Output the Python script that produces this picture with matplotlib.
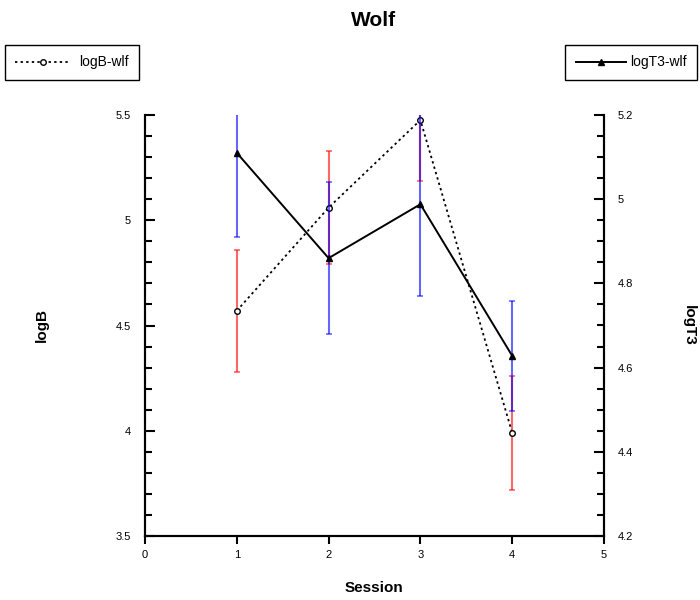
import matplotlib.pyplot as plt
from matplotlib.ticker import MultipleLocator

plt.rcParams['font.family'] = ['Liberation Sans', 'DejaVu Sans']

sessions = [1, 2, 3, 4]
logB = [4.57, 5.06, 5.476, 3.99]
logB_err = [0.29, 0.27, 0.288, 0.27]
logT3 = [5.11, 4.86, 4.988, 4.628]
logT3_err = [0.20, 0.18, 0.218, 0.13]

fig = plt.figure(figsize=(7, 6), dpi=100)
ax = fig.add_axes([145/700, 64/600, 459/700, 421/600])
ax2 = ax.twinx()

# error bars first, semi transparent so overlaps show purple
ax.errorbar(sessions, logB, yerr=logB_err, fmt='none', ecolor='red', alpha=0.6,
            elinewidth=1.5, capsize=2.5, capthick=1.2)
ax2.errorbar(sessions, logT3, yerr=logT3_err, fmt='none', ecolor='blue', alpha=0.6,
             elinewidth=1.5, capsize=2.5, capthick=1.2)

lb, = ax.plot(sessions, logB, color='black', linestyle=(0, (1.3, 1.8)), linewidth=1.3,
              marker='o', markersize=4, markerfacecolor='white', markeredgewidth=1,
              label='logB-wlf', zorder=5)
lt, = ax2.plot(sessions, logT3, color='black', linestyle='-', linewidth=1.4,
               marker='^', markersize=5, label='logT3-wlf', zorder=5)

ax.set_xlim(0, 5)
ax.set_ylim(3.5, 5.5)
ax2.set_ylim(4.2, 5.2)

ax.xaxis.set_major_locator(MultipleLocator(1))
ax.yaxis.set_major_locator(MultipleLocator(0.5))
ax.yaxis.set_minor_locator(MultipleLocator(0.1))
ax2.yaxis.set_major_locator(MultipleLocator(0.2))
ax2.yaxis.set_minor_locator(MultipleLocator(0.05))
ax.yaxis.set_major_formatter(plt.FuncFormatter(lambda v, p: f'{v:g}'))
ax2.yaxis.set_major_formatter(plt.FuncFormatter(lambda v, p: f'{v:g}'))

for a in (ax, ax2):
    a.spines['top'].set_visible(False)
    for s in ('left', 'right', 'bottom'):
        a.spines[s].set_linewidth(1.5)

ax.tick_params(axis='x', direction='out', length=6, width=1.5, labelsize=8, pad=4)
ax.tick_params(axis='y', which='major', direction='in', length=7, width=1.5, labelsize=8, pad=10)
ax.tick_params(axis='y', which='minor', direction='in', length=5, width=1.5)
ax2.tick_params(axis='y', which='major', direction='in', length=7, width=1.5, labelsize=8, pad=10)
ax2.tick_params(axis='y', which='minor', direction='in', length=5, width=1.5)

fig.text(374/700, 1 - 588/600, 'Session', fontsize=11, fontweight='bold', ha='center', va='center')
fig.text(42/700, 1 - 325/600, 'logB', fontsize=11, fontweight='bold', rotation=90,
         ha='center', va='center')
fig.text(689/700, 1 - 325/600, 'logT3', fontsize=11, fontweight='bold', rotation=270,
         ha='center', va='center')
fig.text(374/700, 1 - 20/600, 'Wolf', fontsize=15, fontweight='bold', ha='center', va='center')

leg1 = fig.legend(handles=[lb], loc='upper left', bbox_to_anchor=(5/700, 1 - 45/600),
                  borderaxespad=0, fancybox=False, edgecolor='black', framealpha=1,
                  fontsize=10, handlelength=4.0, numpoints=1, borderpad=0.75,
                  handletextpad=0.6)
leg1.get_frame().set_linewidth(1.0)
leg2 = fig.legend(handles=[lt], loc='upper right', bbox_to_anchor=(697/700, 1 - 45/600),
                  borderaxespad=0, fancybox=False, edgecolor='black', framealpha=1,
                  fontsize=10, handlelength=3.6, numpoints=1, borderpad=0.75,
                  handletextpad=0.3)
leg2.get_frame().set_linewidth(1.0)

fig.savefig('out.png', dpi=100)
